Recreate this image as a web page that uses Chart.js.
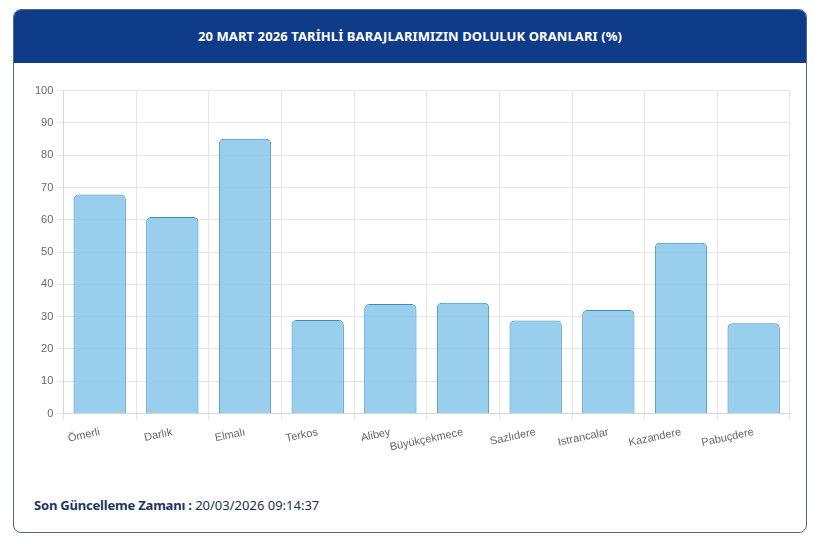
<!DOCTYPE html>
<html lang="tr">
<head>
<meta charset="utf-8">
<title>Baraj Doluluk Oranları</title>
<script src="https://cdn.jsdelivr.net/npm/chart.js@4.4.1/dist/chart.umd.min.js"></script>
<style>
    html, body { margin: 0; padding: 0; background: #fff; }
    body { width: 820px; height: 544px; position: relative; overflow: hidden; font-family: 'Noto Sans', sans-serif; }
    .card {
        position: absolute; left: 13px; top: 9px; width: 792px; height: 522px;
        border: 1px solid #55667d; border-radius: 8px; overflow: hidden; background: #fff;
    }
    .card-header {
        height: 53px; background: #0f3c89; color: #fff;
        font-size: 13px; font-weight: 700; text-align: center; line-height: 53px;
        letter-spacing: 0.1px;
    }
    .chart-box { position: absolute; left: 17px; top: 70px; width: 765px; height: 380px; }
    .footer { position: absolute; left: 20px; top: 486px; font-size: 13px; color: #1b2f55; }
    .footer b { color: #1b3566; letter-spacing: -0.2px; }
</style>
</head>
<body>
<div class="card">
    <div class="card-header">20 MART 2026 TARİHLİ BARAJLARIMIZIN DOLULUK ORANLARI (%)</div>
    <div class="chart-box"><canvas id="chart"></canvas></div>
    <div class="footer"><b>Son Güncelleme Zamanı :</b> 20/03/2026 09:14:37</div>
</div>

<script>
// Barajlar ve doluluk oranları (%)
const barajlar = ['Ömerli', 'Darlık', 'Elmalı', 'Terkos', 'Alibey', 'Büyükçekmece', 'Sazlıdere', 'Istrancalar', 'Kazandere', 'Pabuçdere'];
const doluluk = [67.8, 60.9, 85.1, 29.0, 33.9, 34.3, 28.8, 32.1, 52.9, 28.0];
const yTicks = [0, 10, 20, 30, 40, 50, 60, 70, 80, 90, 100];

const ctx = document.getElementById('chart');

new Chart(ctx, {
    type: 'bar',
    data: {
        labels: barajlar,
        datasets: [{
            label: 'Doluluk (%)',
            data: doluluk,
            backgroundColor: 'rgba(135, 198, 234, 0.85)',
            borderColor: '#3a8fc2',
            borderWidth: 1,
            borderRadius: { topLeft: 5, topRight: 5 },
            borderSkipped: 'bottom'
        }]
    },
    options: {
        responsive: true,
        maintainAspectRatio: false,
        animation: false,
        layout: { padding: { left: 0, right: 6, top: 6, bottom: 0 } },
        plugins: {
            legend: { display: false },
            tooltip: { enabled: false }
        },
        scales: {
            y: {
                min: 0,
                max: 100,
                afterBuildTicks: (axis) => { axis.ticks = yTicks.map(v => ({ value: v })); },
                grid: { color: '#e6e6e6', tickLength: 6 },
                border: { color: '#d6d6d6' },
                ticks: {
                    color: '#666',
                    font: { family: 'Liberation Sans', size: 11 },
                    padding: 4
                }
            },
            x: {
                grid: { color: '#e6e6e6', tickLength: 6 },
                border: { color: '#d6d6d6' },
                ticks: {
                    color: '#666',
                    font: { family: 'Liberation Sans', size: 11 },
                    padding: 6,
                    minRotation: 12,
                    maxRotation: 12,
                    autoSkip: false
                }
            }
        }
    }
});
</script>
</body>
</html>
